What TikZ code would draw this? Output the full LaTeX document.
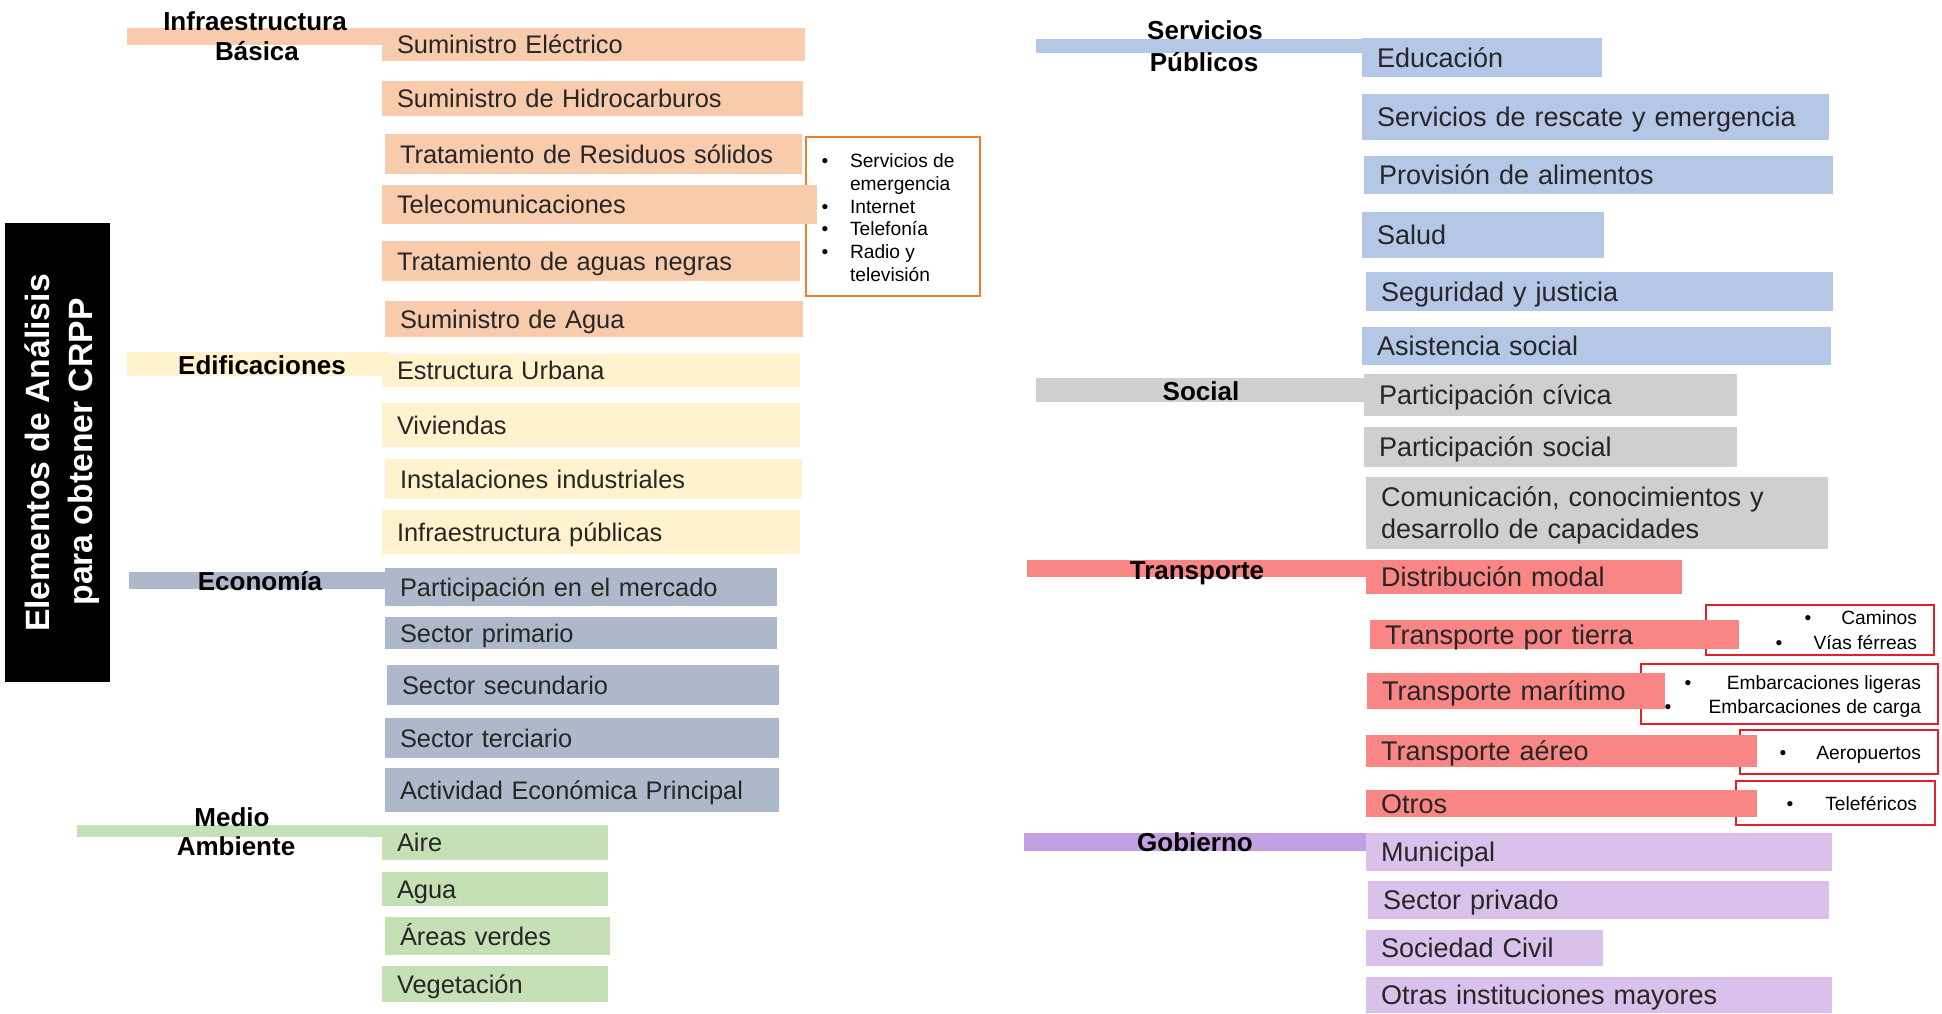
\documentclass[tikz,border=0pt]{standalone}
\usepackage{fontspec}
\setmainfont{Liberation Sans}

\definecolor{peach}{HTML}{F8CBAD}
\definecolor{cream}{HTML}{FFF2CC}
\definecolor{slate}{HTML}{ADB9CA}
\definecolor{leaf}{HTML}{C5E0B4}
\definecolor{sky}{HTML}{B4C7E7}
\definecolor{ash}{HTML}{D0CECE}
\definecolor{coral}{HTML}{FA8585}
\definecolor{lilac}{HTML}{D9C1EC}
\definecolor{violet}{HTML}{C3A0E2}
\definecolor{ink}{HTML}{262626}
\definecolor{amber}{HTML}{ED7D31}
\definecolor{alert}{HTML}{E2202B}

% item box: name, x1, y1, x2, y2, fill, text style, label
\newcommand\boxitem[8]{%
  \pgfmathsetlengthmacro\bxw{(#4-#2)*0.5pt}%
  \pgfmathsetlengthmacro\bxh{(#5-#3)*0.5pt}%
  \pgfmathsetlengthmacro\bxt{(#4-#2-30)*0.5pt}%
  \node[itembox,#7,fill=#6,minimum width=\bxw,minimum height=\bxh,text width=\bxt] (#1) at (#2,#3) {#8};}
% coloured band under a category title: name, x1, y1, x2, y2, fill
\newcommand\barnode[6]{%
  \pgfmathsetlengthmacro\bxw{(#4-#2)*0.5pt}%
  \pgfmathsetlengthmacro\bxh{(#5-#3)*0.5pt}%
  \node[anchor=north west,fill=#6,minimum width=\bxw,minimum height=\bxh] (#1) at (#2,#3) {};}
% framed note: name, x1, y1, x2, y2, border colour
\newcommand\callout[6]{%
  \pgfmathsetlengthmacro\bxw{(#4-#2)*0.5pt}%
  \pgfmathsetlengthmacro\bxh{(#5-#3)*0.5pt}%
  \node[anchor=north west,draw=#6,line width=1pt,fill=white,minimum width=\bxw,minimum height=\bxh] (#1) at (#2,#3) {};}

\begin{document}
\begin{tikzpicture}[x=0.5pt,y=-0.5pt,
  every node/.style={inner sep=0pt,outer sep=0pt},
  itembox/.style={anchor=north west,inner xsep=7.5pt,inner ysep=0pt,align=left,text=ink,text depth=0pt},
  ltext/.style={font=\fontsize{12.7}{16}\selectfont,text height=9.1pt},
  rtext/.style={font=\fontsize{13.5}{16}\selectfont,text height=9.7pt},
  hdr/.style={font=\bfseries\fontsize{13}{15}\selectfont,text=black,text height=9.3pt,text depth=0pt},
  ctext/.style={font=\fontsize{9.6}{11.5}\selectfont,text=black,text height=6.9pt,text depth=0pt},
  title/.style={font=\bfseries\fontsize{16.85}{20}\selectfont,text=white,rotate=90,text height=12.1pt,text depth=0pt}]

\fill[white] (0,0) rectangle (1942,1013);
\useasboundingbox (0,0) rectangle (1942,1013);

% side panel with the diagram title
\node[fill=black,anchor=north west,minimum width=52.5pt,minimum height=229.5pt] (panel) at (5,223) {};
\node[title] (ttl1) at (37,453) {Elementos de Análisis};
\node[title] (ttl2) at (80,452) {para obtener CRPP};

% category bands
\barnode{hb1}{127}{28}{384}{45}{peach}
\barnode{hb2}{127}{352}{390}{376}{cream}
\barnode{hb3}{129}{572}{390}{589}{slate}
\barnode{hb4}{77}{825}{384}{837}{leaf}
\barnode{hb5}{1036}{39}{1364}{53}{sky}
\barnode{hb6}{1036}{378}{1366}{402}{ash}
\barnode{hb7}{1027}{560}{1368}{577}{coral}
\barnode{hb8}{1024}{833}{1368}{851}{violet}

% framed notes (drawn below the boxes they belong to)
\callout{cl}{806}{137}{980}{296}{amber}
\callout{ct}{1706}{605}{1934}{655}{alert}
\callout{cm}{1641}{664}{1938}{724}{alert}
\callout{ca}{1740}{730}{1938}{774}{alert}
\callout{co}{1736}{781}{1935}{825}{alert}

% Infraestructura Básica
\boxitem{se}{382}{28}{805}{61}{peach}{ltext}{Suministro Eléctrico}
\boxitem{sh}{382}{81}{803}{116}{peach}{ltext}{Suministro de Hidrocarburos}
\boxitem{rs}{385}{134}{802}{174}{peach}{ltext}{Tratamiento de Residuos sólidos}
\boxitem{tc}{382}{185}{817}{224}{peach}{ltext}{Telecomunicaciones}
\boxitem{an}{382}{241}{800}{281}{peach}{ltext}{Tratamiento de aguas negras}
\boxitem{sa}{385}{301}{803}{337}{peach}{ltext}{Suministro de Agua}
% Edificaciones
\boxitem{eu}{382}{354}{800}{387}{cream}{ltext}{Estructura Urbana}
\boxitem{vi}{382}{403}{800}{447}{cream}{ltext}{Viviendas}
\boxitem{ii}{385}{459}{802}{499}{cream}{ltext}{Instalaciones industriales}
\boxitem{ip}{382}{510}{800}{554}{cream}{ltext}{Infraestructura públicas}
% Economía
\boxitem{pm}{385}{568}{777}{606}{slate}{ltext}{Participación en el mercado}
\boxitem{sp}{385}{617}{777}{649}{slate}{ltext}{Sector primario}
\boxitem{ss}{387}{665}{779}{705}{slate}{ltext}{Sector secundario}
\boxitem{st}{385}{718}{779}{758}{slate}{ltext}{Sector terciario}
\boxitem{ae}{385}{768}{779}{812}{slate}{ltext}{Actividad Económica Principal}
% Medio Ambiente
\boxitem{ai}{382}{825}{608}{860}{leaf}{ltext}{Aire}
\boxitem{ag}{382}{872}{608}{906}{leaf}{ltext}{Agua}
\boxitem{av}{385}{917}{610}{955}{leaf}{ltext}{Áreas verdes}
\boxitem{vg}{382}{966}{608}{1002}{leaf}{ltext}{Vegetación}

% Servicios Públicos
\boxitem{ed}{1362}{38}{1602}{77}{sky}{rtext}{Educación}
\boxitem{sr}{1362}{94}{1829}{140}{sky}{rtext}{Servicios de rescate y emergencia}
\boxitem{pa}{1364}{156}{1833}{194}{sky}{rtext}{Provisión de alimentos}
\boxitem{sl}{1362}{212}{1604}{258}{sky}{rtext}{Salud}
\boxitem{sj}{1366}{272}{1833}{311}{sky}{rtext}{Seguridad y justicia}
\boxitem{as}{1362}{327}{1831}{365}{sky}{rtext}{Asistencia social}
% Social
\boxitem{pc}{1364}{374}{1737}{416}{ash}{rtext}{Participación cívica}
\boxitem{ps}{1364}{427}{1737}{467}{ash}{rtext}{Participación social}
\boxitem{cc}{1366}{477}{1828}{549}{ash}{rtext,text depth=16pt}{Comunicación, conocimientos y\\desarrollo de capacidades}
% Transporte
\boxitem{dm}{1366}{560}{1682}{594}{coral}{rtext}{Distribución modal}
\boxitem{tt}{1370}{620}{1739}{649}{coral}{rtext}{Transporte por tierra}
\boxitem{tm}{1367}{673}{1665}{709}{coral}{rtext}{Transporte marítimo}
\boxitem{ta}{1366}{735}{1757}{767}{coral}{rtext}{Transporte aéreo}
\boxitem{ot}{1366}{790}{1757}{817}{coral}{rtext}{Otros}
% Gobierno
\boxitem{mu}{1366}{833}{1832}{871}{lilac}{rtext}{Municipal}
\boxitem{pr}{1368}{881}{1829}{919}{lilac}{rtext}{Sector privado}
\boxitem{sc}{1366}{930}{1603}{966}{lilac}{rtext}{Sociedad Civil}
\boxitem{oi}{1366}{977}{1832}{1013}{lilac}{rtext}{Otras instituciones mayores}

% category titles
\node[hdr] (h1a) at (255,21) {Infraestructura};
\node[hdr] (h1b) at (257,51) {Básica};
\node[hdr] (h2) at (262,365) {Edificaciones};
\node[hdr] (h3) at (260,581) {Economía};
\node[hdr] (h4a) at (232,817) {Medio};
\node[hdr] (h4b) at (236,846) {Ambiente};
\node[hdr] (h5a) at (1205,30) {Servicios};
\node[hdr] (h5b) at (1204,62) {Públicos};
\node[hdr] (h6) at (1201,391) {Social};
\node[hdr] (h7) at (1197,570) {Transporte};
\node[hdr] (h8) at (1195,842) {Gobierno};

% telecommunication details
\node[ctext] (clb1) at (825,161) {•};
\node[ctext] (clb2) at (825,207) {•};
\node[ctext] (clb3) at (825,229) {•};
\node[ctext] (clb4) at (825,252) {•};
\node[ctext,anchor=west] (clt1) at (850,161) {Servicios de};
\node[ctext,anchor=west] (clt2) at (850,184) {emergencia};
\node[ctext,anchor=west] (clt3) at (850,207) {Internet};
\node[ctext,anchor=west] (clt4) at (850,229) {Telefonía};
\node[ctext,anchor=west] (clt5) at (850,252) {Radio y};
\node[ctext,anchor=west] (clt6) at (850,275) {televisión};

% transport details
\node[ctext] (ctb1) at (1808,618) {•};
\node[ctext,anchor=east] (ctt1) at (1917,618) {Caminos};
\node[ctext] (ctb2) at (1779,643) {•};
\node[ctext,anchor=east] (ctt2) at (1917,643) {Vías férreas};
\node[ctext] (cmb1) at (1688,683) {•};
\node[ctext,anchor=east] (cmt1) at (1921,683) {Embarcaciones ligeras};
\node[ctext] (cmb2) at (1668,707) {•};
\node[ctext,anchor=east] (cmt2) at (1921,707) {Embarcaciones de carga};
\node[ctext] (cab1) at (1783,753) {•};
\node[ctext,anchor=east] (cat1) at (1921,753) {Aeropuertos};
\node[ctext] (cob1) at (1790,804) {•};
\node[ctext,anchor=east] (cot1) at (1917,804) {Teleféricos};

\end{tikzpicture}
\end{document}
